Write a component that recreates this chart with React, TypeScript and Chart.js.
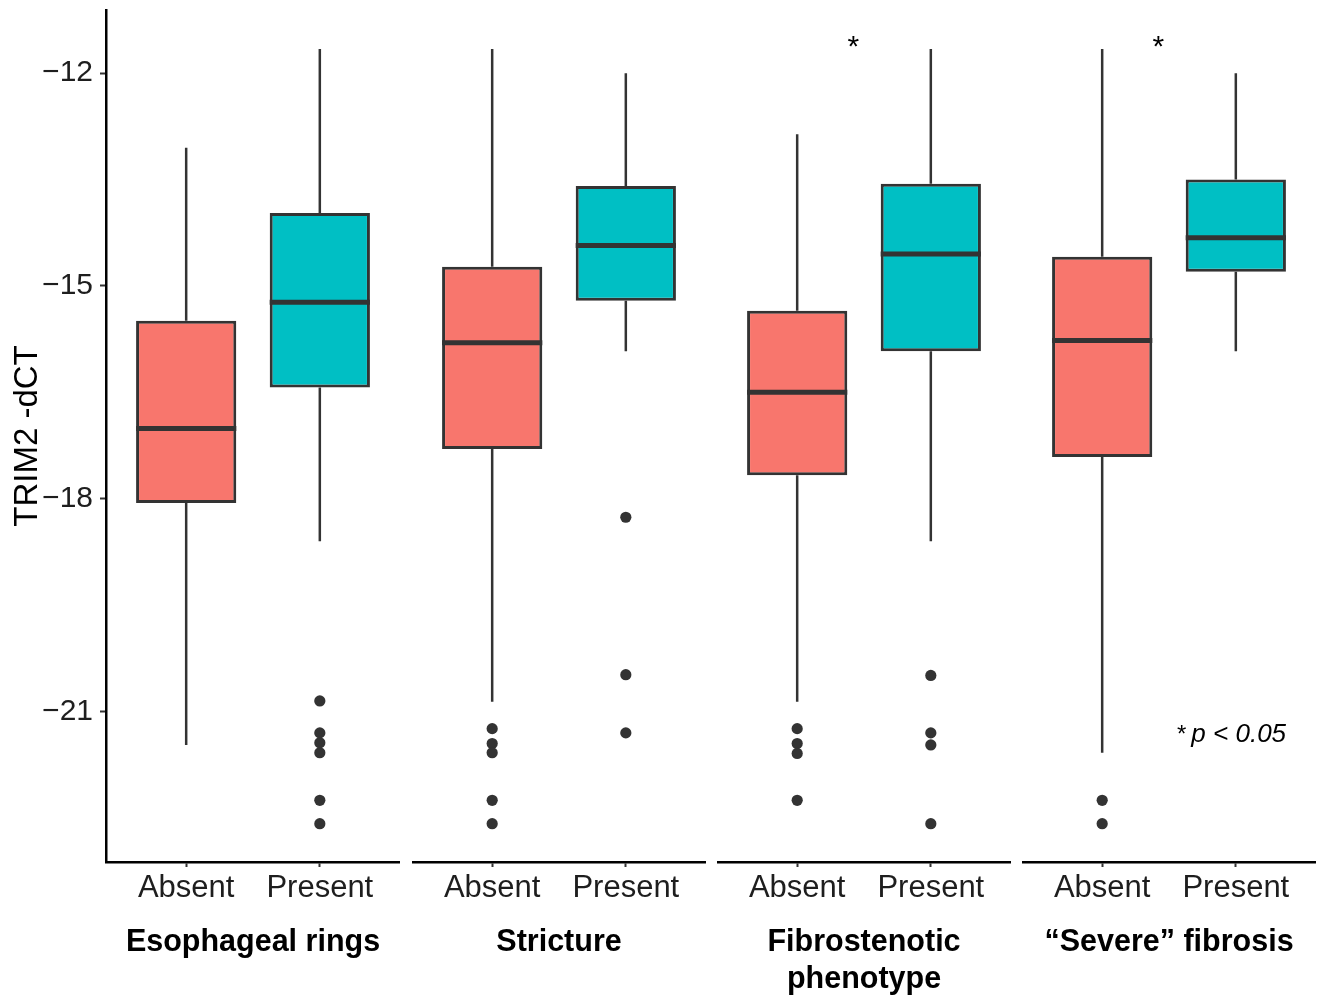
import React, { useEffect, useRef } from "react";
import { Chart, registerables } from "chart.js";

Chart.register(...registerables);

// ---------- data ----------
const groups = ["Absent", "Present"];
const facetTitles: string[][] = [
  ["Esophageal rings", ""],
  ["Stricture", ""],
  ["Fibrostenotic", "phenotype"],
  ["\u201CSevere\u201D fibrosis", ""],
];
const yTicks = [-12, -15, -18, -21];
const yAxisTitle = "TRIM2 -dCT";

// per facet: [Absent, Present]
const lowerWhisker = [[-21.47, -18.6], [-20.86, -15.92], [-20.86, -18.6], [-21.58, -15.92]];
const q1 = [[-18.06, -16.43], [-17.3, -15.21], [-17.67, -15.92], [-17.41, -14.8]];
const median = [[-17.01, -15.23], [-15.8, -14.43], [-16.5, -14.55], [-15.77, -14.32]];
const q3 = [[-15.49, -13.97], [-14.73, -13.59], [-15.35, -13.56], [-14.59, -13.5]];
const upperWhisker = [[-13.05, -11.66], [-11.66, -12.0], [-12.86, -11.66], [-11.66, -12.0]];
const outliers: number[][][] = [
  [[], [-20.85, -21.3, -21.44, -21.58, -22.25, -22.58]],
  [[-21.24, -21.45, -21.58, -22.25, -22.58], [-18.26, -20.48, -21.3]],
  [[-21.24, -21.45, -21.59, -22.25], [-20.49, -21.3, -21.47, -22.58]],
  [[-22.25, -22.58], []],
];
const significant = [false, false, true, true];
const starAnchor = { x: 1.42, y: -11.76 };
const legendNote = { star: "*", text: "p < 0.05", x: 1.56, y: -21.425, facet: 3 };

const yMin = -23.12;
const yMax = -11.11;

// ---------- styles / layout ----------
const FONT = "'Liberation Sans', Arial, Helvetica, sans-serif";
const boxColors = ["#F8766D", "#00BFC4"];
const lineColor = "#333333";
const H = 998;
const panels = [
  { left: 0, width: 400 },
  { left: 412, width: 294 },
  { left: 717, width: 294 },
  { left: 1022, width: 294 },
];

const boxExtras = {
  id: "boxExtras",
  beforeDatasetsDraw(chart: any, _a: any, opts: any) {
    const f = opts.facet;
    const { ctx } = chart;
    const xs = chart.scales.x;
    const ys = chart.scales.y;
    ctx.save();
    ctx.strokeStyle = lineColor;
    ctx.lineWidth = 2.5;
    groups.forEach((_, j) => {
      const px = xs.getPixelForValue(j + 1);
      ctx.beginPath();
      ctx.moveTo(px, ys.getPixelForValue(q3[f][j]));
      ctx.lineTo(px, ys.getPixelForValue(upperWhisker[f][j]));
      ctx.moveTo(px, ys.getPixelForValue(q1[f][j]));
      ctx.lineTo(px, ys.getPixelForValue(lowerWhisker[f][j]));
      ctx.stroke();
    });
    ctx.restore();
  },
  afterDatasetsDraw(chart: any, _a: any, opts: any) {
    const f = opts.facet;
    const { ctx } = chart;
    const xs = chart.scales.x;
    const ys = chart.scales.y;
    const meta = chart.getDatasetMeta(0);
    ctx.save();
    ctx.strokeStyle = lineColor;
    ctx.lineWidth = 5;
    ctx.lineCap = "butt";
    meta.data.forEach((bar: any, j: number) => {
      const py = ys.getPixelForValue(median[f][j]);
      ctx.beginPath();
      ctx.moveTo(bar.x - bar.width / 2, py);
      ctx.lineTo(bar.x + bar.width / 2, py);
      ctx.stroke();
    });
    ctx.fillStyle = "#000";
    ctx.textBaseline = "alphabetic";
    if (significant[f]) {
      ctx.font = `30px ${FONT}`;
      ctx.textAlign = "center";
      ctx.fillText("*", xs.getPixelForValue(starAnchor.x), ys.getPixelForValue(starAnchor.y));
    }
    if (f === legendNote.facet) {
      const lx = xs.getPixelForValue(legendNote.x);
      const ly = ys.getPixelForValue(legendNote.y);
      ctx.textAlign = "left";
      ctx.font = `24px ${FONT}`;
      ctx.fillText(legendNote.star, lx, ly);
      const w = ctx.measureText(legendNote.star).width;
      ctx.font = `italic 26px ${FONT}`;
      ctx.fillText(legendNote.text, lx + w + 5, ly);
    }
    ctx.restore();
  },
};

function makeConfig(f: number): any {
  const first = f === 0;
  return {
    type: "bar",
    data: {
      datasets: [
        {
          type: "bar",
          data: groups.map((_, j) => ({ x: j + 1, y: [q1[f][j], q3[f][j]] })),
          backgroundColor: boxColors,
          borderColor: lineColor,
          borderWidth: 3,
          borderSkipped: false,
          barPercentage: 0.75,
          categoryPercentage: 1,
        },
        {
          type: "scatter",
          data: groups.flatMap((_, j) => outliers[f][j].map((v) => ({ x: j + 1, y: v }))),
          backgroundColor: lineColor,
          borderWidth: 0,
          pointRadius: 5.6,
          pointHoverRadius: 5.6,
        },
      ],
    },
    options: {
      responsive: false,
      animation: false,
      events: [],
      layout: { padding: { top: 10, left: 0, right: 0, bottom: 0 }, autoPadding: false },
      plugins: {
        legend: { display: false },
        tooltip: { enabled: false },
        boxExtras: { facet: f },
      },
      scales: {
        x: {
          type: "linear",
          min: 0.4,
          max: 2.6,
          offset: false,
          afterBuildTicks: (s: any) => {
            s.ticks = groups.map((_, j) => ({ value: j + 1 }));
          },
          afterFit: (s: any) => {
            s.height = 136;
            s.paddingLeft = 0;
            s.paddingRight = 0;
          },
          ticks: {
            callback: (_v: any, i: number) => groups[i],
            font: { family: FONT, size: 31 },
            color: "#1e1e1e",
            padding: 3,
            autoSkip: false,
            maxRotation: 0,
          },
          grid: {
            display: true,
            offset: false,
            drawOnChartArea: false,
            drawTicks: true,
            tickLength: 5,
            color: lineColor,
            tickColor: lineColor,
            tickWidth: 2,
          },
          border: { display: true, color: "#000", width: 2.5 },
          title: {
            display: true,
            text: facetTitles[f],
            color: "#000",
            font: { family: FONT, size: 30.5, weight: "bold", lineHeight: "37px" },
            padding: { top: 0, bottom: 0 },
          },
        },
        y: {
          type: "linear",
          display: first,
          min: yMin,
          max: yMax,
          afterBuildTicks: (s: any) => {
            s.ticks = yTicks.map((v) => ({ value: v }));
          },
          afterFit: (s: any) => {
            s.width = first ? 106 : 0;
            s.paddingTop = 0;
            s.paddingBottom = 0;
          },
          ticks: {
            callback: (v: any) => String(v).replace("-", "\u2212"),
            font: { family: FONT, size: 30 },
            color: "#1e1e1e",
            padding: 7,
          },
          grid: {
            display: true,
            drawOnChartArea: false,
            drawTicks: true,
            tickLength: 6,
            color: lineColor,
            tickColor: lineColor,
            tickWidth: 2,
          },
          border: { display: true, color: "#000", width: 2.5 },
          title: {
            display: true,
            text: yAxisTitle,
            color: "#000",
            font: { family: FONT, size: 33 },
            padding: { top: 8, bottom: 0 },
          },
        },
      },
    },
    plugins: [boxExtras],
  };
}

function Panel({ facet }: { facet: number }) {
  const ref = useRef<HTMLCanvasElement>(null);
  useEffect(() => {
    const chart = new Chart(ref.current as HTMLCanvasElement, makeConfig(facet));
    return () => chart.destroy();
  }, [facet]);
  const p = panels[facet];
  return (
    <canvas
      ref={ref}
      width={p.width}
      height={H}
      style={{ position: "absolute", left: p.left, top: 0, width: p.width, height: H }}
    />
  );
}

export default function App() {
  return (
    <div
      style={{
        position: "absolute",
        left: 0,
        top: 0,
        width: 1323,
        height: H,
        background: "#fff",
        overflow: "hidden",
      }}
    >
      {facetTitles.map((_, f) => (
        <Panel key={f} facet={f} />
      ))}
    </div>
  );
}
